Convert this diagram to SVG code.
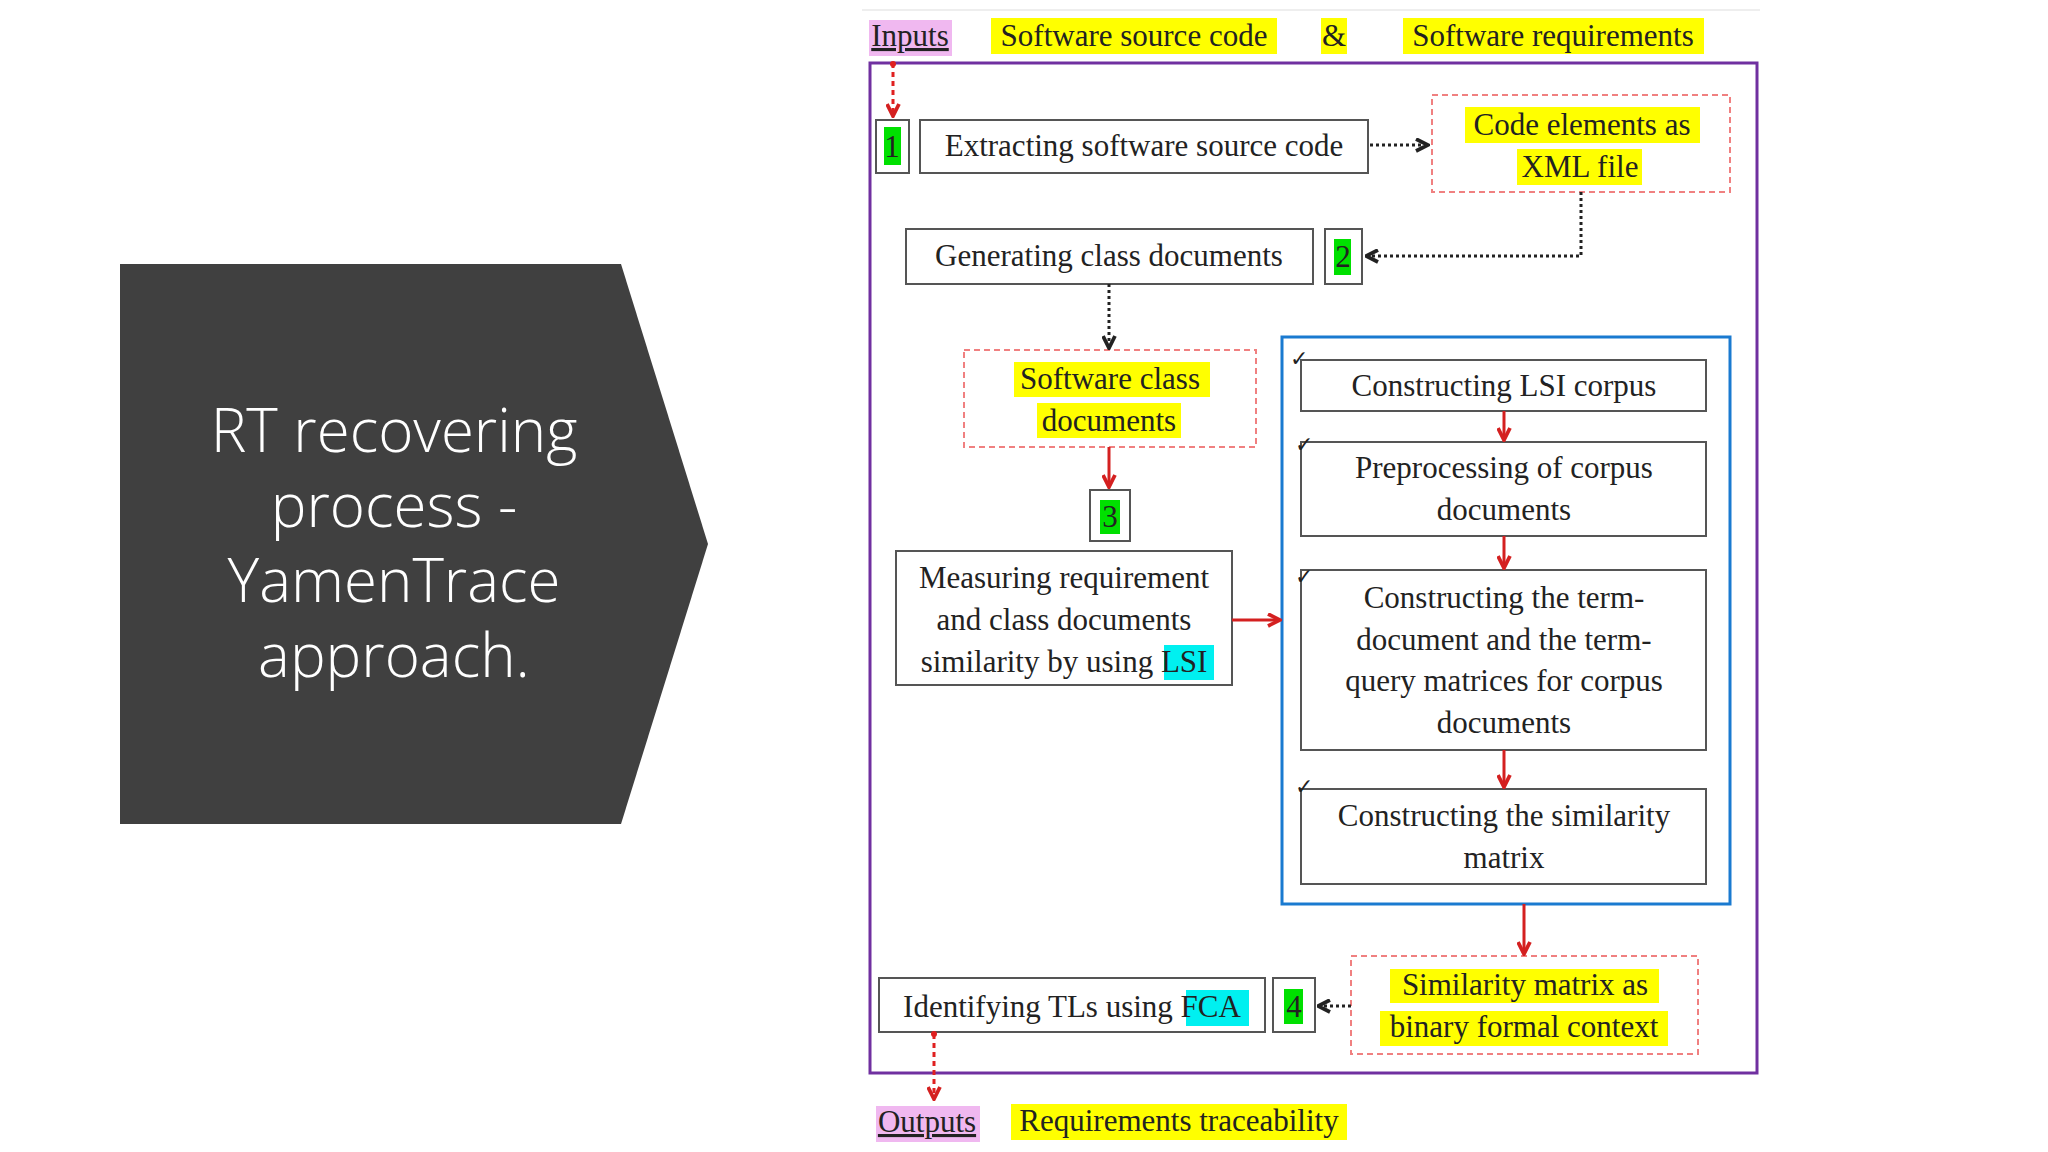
<svg xmlns="http://www.w3.org/2000/svg" width="2048" height="1152" viewBox="0 0 2048 1152">
<defs>
<style>
.t{font-family:"Liberation Serif",serif;font-size:31px;fill:#222;text-anchor:middle}
.b{fill:#fff;stroke:#555;stroke-width:2}
.dr{fill:none;stroke:#f08080;stroke-width:2;stroke-dasharray:6 4}
.y{fill:#ffff00}.g{fill:#00e000}.c{fill:#00f0f0}.p{fill:#f0b8f0}
.ak{fill:none;stroke:#222;stroke-width:3;stroke-dasharray:3 3}
.ar{fill:none;stroke:#d42020;stroke-width:3}
.ard{fill:none;stroke:#e02020;stroke-width:3;stroke-dasharray:5 4}
</style>
<marker id="mk" viewBox="0 0 10 10" refX="9" refY="5" markerWidth="5" markerHeight="5" orient="auto"><path d="M1,1 L9,5 L1,9" fill="none" stroke="#222" stroke-width="2.5"/></marker>
<marker id="mr" viewBox="0 0 10 10" refX="9" refY="5" markerWidth="5" markerHeight="5" orient="auto"><path d="M1,1 L9,5 L1,9" fill="none" stroke="#d42020" stroke-width="2.5"/></marker>
</defs>
<rect width="2048" height="1152" fill="#fff"/>
<line x1="862" y1="10" x2="1760" y2="10" stroke="#eee" stroke-width="2"/>
<g id="title">
<path d="M120,264 L621,264 L708,544 L621,824 L120,824 Z" fill="#404040"/>
<g font-family="Open Sans,sans-serif" font-size="60" fill="#fff" text-anchor="middle" font-weight="300">
<text x="394" y="452">RT recovering</text><text x="394" y="527">process -</text><text x="394" y="602">YamenTrace</text><text x="394" y="677">approach.</text></g>
</g>
<g id="inputs">
<rect class="p" x="869" y="20" width="83" height="36"/>
<text class="t" x="910" y="46" text-decoration="underline">Inputs</text>
<rect class="y" x="991" y="18" width="286" height="36"/><text class="t" x="1134" y="46">Software source code</text>
<rect class="y" x="1321" y="18" width="26" height="36"/><text class="t" x="1334" y="46">&amp;</text>
<rect class="y" x="1403" y="18" width="301" height="36"/><text class="t" x="1553" y="46">Software requirements</text>
</g>
<rect x="870" y="63" width="887" height="1010" fill="none" stroke="#7030a0" stroke-width="3"/>
<g id="n1"><rect class="b" x="876" y="120" width="33" height="53"/><rect class="g" x="884" y="127" width="17" height="38"/><text class="t" x="892" y="157">1</text></g>
<g id="extract"><rect class="b" x="920" y="120" width="448" height="53"/><text class="t" x="1144" y="156">Extracting software source code</text></g>
<g id="xml"><rect class="dr" x="1432" y="95" width="298" height="97"/><rect class="y" x="1465" y="107" width="235" height="36"/><rect class="y" x="1517" y="149" width="125" height="36"/><text class="t" x="1582" y="135">Code elements as</text><text class="t" x="1580" y="177">XML file</text></g>
<g id="generating"><rect class="b" x="906" y="229" width="407" height="55"/><text class="t" x="1109" y="266">Generating class documents</text></g>
<g id="n2"><rect class="b" x="1325" y="229" width="37" height="55"/><rect class="g" x="1334" y="239" width="17" height="36"/><text class="t" x="1343" y="267">2</text></g>
<g id="classdocs"><rect class="dr" x="964" y="350" width="292" height="97"/><rect class="y" x="1014" y="362" width="196" height="35"/><rect class="y" x="1037" y="403" width="144" height="35"/><text class="t" x="1110" y="389">Software class</text><text class="t" x="1109" y="431">documents</text></g>
<g id="n3"><rect class="b" x="1090" y="490" width="40" height="51"/><rect class="g" x="1100" y="500" width="20" height="34"/><text class="t" x="1110" y="527">3</text></g>
<g id="measuring"><rect class="b" x="896" y="551" width="336" height="134"/><rect class="c" x="1164" y="645" width="50" height="35"/><text class="t" x="1064" y="588">Measuring requirement</text><text class="t" x="1064" y="630">and class documents</text><text class="t" x="1064" y="672">similarity  by using LSI</text></g>
<g id="lsi">
<rect x="1282" y="337" width="448" height="567" fill="none" stroke="#1a7ad0" stroke-width="3"/>
<rect class="b" x="1301" y="360" width="405" height="51"/><text class="t" x="1504" y="396">Constructing LSI corpus</text>
<rect class="b" x="1301" y="442" width="405" height="94"/><text class="t" x="1504" y="478">Preprocessing of corpus</text><text class="t" x="1504" y="520">documents</text>
<rect class="b" x="1301" y="570" width="405" height="180"/><text class="t" x="1504" y="608">Constructing the term-</text><text class="t" x="1504" y="650">document and the term-</text><text class="t" x="1504" y="691">query matrices for corpus</text><text class="t" x="1504" y="733">documents</text>
<rect class="b" x="1301" y="789" width="405" height="95"/><text class="t" x="1504" y="826">Constructing the similarity</text><text class="t" x="1504" y="868">matrix</text>
<g font-family="DejaVu Sans,sans-serif" font-size="22" fill="#222"><text x="1290" y="366">✓</text><text x="1295" y="452">✓</text><text x="1295" y="584">✓</text><text x="1295" y="794">✓</text></g>
</g>
<g id="simmatrix"><rect class="dr" x="1351" y="956" width="347" height="98"/><rect class="y" x="1390" y="969" width="269" height="34"/><rect class="y" x="1380" y="1011" width="288" height="35"/><text class="t" x="1525" y="995">Similarity  matrix as</text><text class="t" x="1524" y="1037">binary formal context</text></g>
<g id="n4"><rect class="b" x="1273" y="978" width="42" height="54"/><rect class="g" x="1284" y="989" width="19" height="35"/><text class="t" x="1294" y="1017">4</text></g>
<g id="identify"><rect class="b" x="879" y="978" width="386" height="54"/><rect class="c" x="1186" y="990" width="63" height="36"/><text class="t" x="1072" y="1017">Identifying TLs using FCA</text></g>
<g id="outputs"><rect class="p" x="876" y="1106" width="104" height="36"/><text class="t" x="927" y="1132" text-decoration="underline">Outputs</text><rect class="y" x="1011" y="1104" width="336" height="36"/><text class="t" x="1179" y="1131">Requirements traceability</text></g>
<g id="connectors">
<path class="ard" d="M893,63 V116" marker-end="url(#mr)"/>
<circle cx="893" cy="64" r="3" fill="#e02020"/>
<path class="ak" d="M1370,145 H1428" marker-end="url(#mk)"/>
<path class="ak" d="M1581,192 V256 H1366" marker-end="url(#mk)"/>
<path class="ak" d="M1109,284 V348" marker-end="url(#mk)"/>
<path class="ar" d="M1109,447 V487" marker-end="url(#mr)"/>
<path class="ar" d="M1232,620 H1280" marker-end="url(#mr)"/>
<path class="ar" d="M1504,411 V440" marker-end="url(#mr)"/>
<path class="ar" d="M1504,536 V568" marker-end="url(#mr)"/>
<path class="ar" d="M1504,750 V787" marker-end="url(#mr)"/>
<path class="ar" d="M1524,904 V954" marker-end="url(#mr)"/>
<path class="ak" d="M1351,1006 H1318" marker-end="url(#mk)"/>
<path class="ard" d="M934,1034 V1099" marker-end="url(#mr)"/>
<circle cx="934" cy="1034" r="3" fill="#e02020"/>
</g>
</svg>
